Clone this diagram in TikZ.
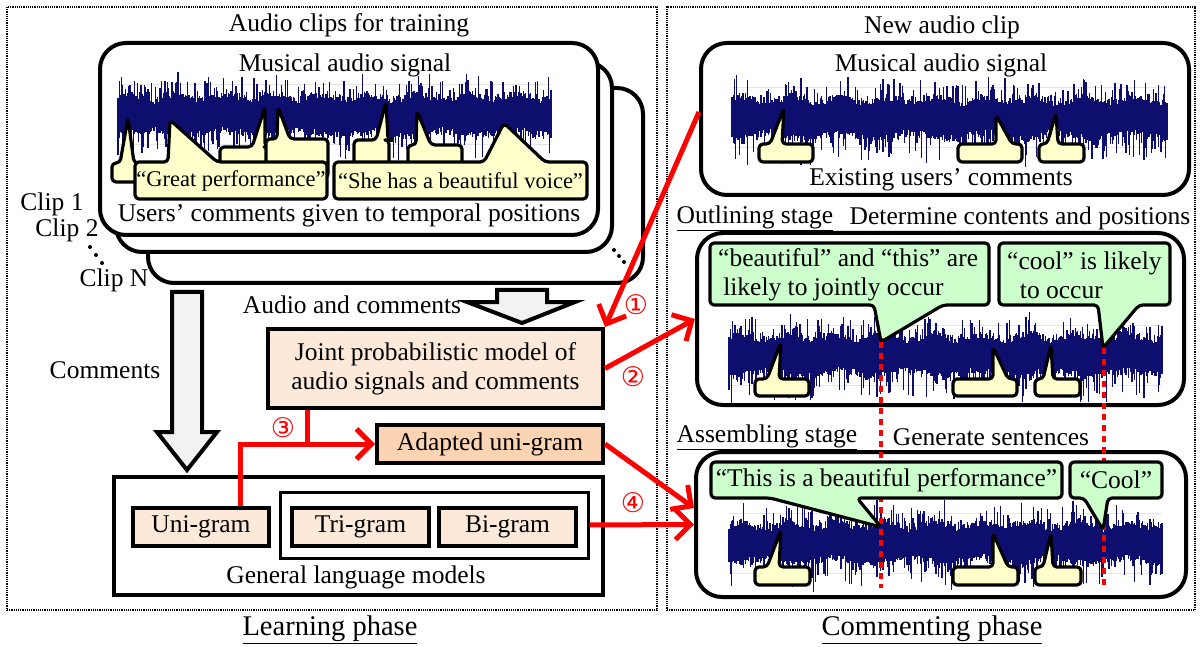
\documentclass[tikz,border=0pt]{standalone}
\usepackage{fontspec}
\setmainfont{Liberation Serif}
\newfontfamily\circfont{DejaVu Sans}
\usepackage{tikz}
\usetikzlibrary{arrows.meta, positioning, calc}
\definecolor{wavenavy}{RGB}{14,14,110}
\definecolor{peach}{RGB}{253,233,217}
\definecolor{peachdark}{RGB}{251,212,180}
\definecolor{noteyellow}{RGB}{255,255,204}
\definecolor{notegreen}{RGB}{204,255,204}
\definecolor{arrowgray}{RGB}{242,242,242}

% x1, x2, centre y
\newcommand{\wavesignal}[3]{%
  \draw[gray!20,line width=1pt] (#1,#3-30) -- (#2,#3-30) (#1,#3+30) -- (#2,#3+30);
  \pgfmathsetmacro\wstep{(#2-#1)/360}%
  \foreach \k in {0,...,360}{%
    \pgfmathsetmacro\wx{#1+\k*\wstep}%
    \pgfmathsetmacro\wup{14+7*rnd+22*rnd^4+3*sin(\k*9)}%
    \pgfmathsetmacro\wdn{14+7*rnd+28*rnd^4+3*cos(\k*6)}%
    \draw[wave] (\wx,#3-\wup) -- (\wx,#3+\wdn);
  }%
}
% x1, y1, x2, y2, pointer a, tip x, tip y, pointer b
\newcommand{\upnote}[8]{\filldraw[note,fill=noteyellow] (#1,#2) -- (#5,#2) -- (#6,#7) -- (#8,#2) -- (#3,#2) -- (#3,#4) -- (#1,#4) -- cycle;}
\newcommand{\downnote}[8]{\filldraw[note,fill=notegreen] (#1,#2) -- (#3,#2) -- (#3,#4) -- (#8,#4) -- (#6,#7) -- (#5,#4) -- (#1,#4) -- cycle;}

\begin{document}
\begin{tikzpicture}[x=1pt,y=-1pt,
    font=\fontsize{25.5}{29}\selectfont,
    panel/.style={draw,densely dotted,line width=1.2pt,inner sep=0},
    clipbox/.style={draw,fill=white,line width=4pt,rounded corners=26pt,inner sep=0},
    model/.style={draw,fill=peach,line width=4pt,inner sep=0},
    note/.style={line width=3.2pt,rounded corners=4pt,line join=round},
    wave/.style={wavenavy,line width=1.3pt},
    bigarrow/.style={draw,fill=arrowgray,line width=4pt,line join=miter},
    redarrow/.style={red,line width=5pt,-{Straight Barb[length=15pt,width=30pt]}},
    redline/.style={red,line width=5pt},
    redmark/.style={red,dash pattern=on 6pt off 5pt,line width=4pt},
    num/.style={text=red,inner sep=0,font=\circfont\fontsize{27}{29}\selectfont},
    lbl/.style={inner sep=0},
    small/.style={inner sep=0,font=\fontsize{22.5}{26}\selectfont},
    title/.style={inner sep=0,font=\fontsize{28.5}{32}\selectfont}
  ]
  \pgfmathsetseed{12}
  \useasboundingbox (0,0) rectangle (1200,647);

  \node[panel,minimum width=650pt,minimum height=603pt] (learnpanel) at (332,308.5) {};
  \node[panel,minimum width=528pt,minimum height=603pt] (commentpanel) at (931,308.5) {};

  \node[clipbox,minimum width=495pt,minimum height=195pt] (clipN) at (395.5,185.5) {};
  \node[clipbox,minimum width=496pt,minimum height=190pt] (clip2) at (364,157) {};
  \node[clipbox,minimum width=498pt,minimum height=192pt] (clip1) at (349,139) {};
  \node[clipbox,minimum width=488pt,minimum height=152pt] (newclip) at (945,119) {};
  \node[clipbox,minimum width=487pt,minimum height=172pt] (outline) at (940.5,319) {};
  \node[clipbox,minimum width=490pt,minimum height=145pt] (assemble) at (941,524.5) {};

  \wavesignal{118}{551}{115}
  \wavesignal{732}{1167}{118}
  \wavesignal{729}{1162}{355}
  \wavesignal{729}{1162}{543}

  \draw[redmark] (881,342) -- (881,588);
  \draw[redmark] (1104,348) -- (1104,588);

  \upnote{112}{163}{140}{182}{120}{128}{118}{134}
  \upnote{220}{147}{268}{178}{252}{265}{107}{265}
  \upnote{266}{139}{328}{178}{277}{278}{107}{290}
  \upnote{135}{162}{327}{199}{168}{170}{120}{217}
  \upnote{354}{140}{389}{178}{376}{386}{102}{388}
  \upnote{408}{145}{462}{178}{416}{417}{111}{431}
  \upnote{334}{162}{587}{199}{484}{504}{123}{545}
  \node[small] (greatnote) at (231,181) {“Great performance”};
  \node[small] (voicenote) at (460.5,181) {“She has a beautiful voice”};

  \upnote{759}{144}{813}{162}{770}{784}{108}{782}
  \upnote{958}{144}{1022}{162}{996}{996}{115}{1012}
  \upnote{1039}{144}{1084}{162}{1047}{1056}{113}{1058}
  \upnote{755}{379}{809}{396}{767}{781}{342}{779}
  \upnote{953}{379}{1017}{396}{993}{993}{347}{1008}
  \upnote{1035}{379}{1080}{396}{1043}{1051}{345}{1053}
  \upnote{755}{567}{810}{585}{767}{781}{530}{779}
  \upnote{953}{567}{1018}{585}{993}{993}{533}{1008}
  \upnote{1035}{567}{1081}{585}{1043}{1051}{533}{1053}

  \downnote{710}{243}{989}{305}{874}{881}{342}{943}
  \downnote{999}{243}{1170}{305}{1098}{1103}{348}{1139}
  \downnote{711}{462}{1062}{498}{770}{881}{527}{857}
  \downnote{1070}{462}{1162}{498}{1084}{1103}{530}{1108}
  \node[lbl,align=left,anchor=west] (jointnote) at (718,275) {“beautiful” and “this” are\\\hspace*{0.2em}likely to jointly occur};
  \node[lbl,align=left,anchor=west] (coolnote) at (1007,275) {“cool” is likely\\\hspace*{0.5em}to occur};
  \node[lbl] (sentnote) at (886.5,480) {“This is a beautiful performance”};
  \node[lbl] (coolsent) at (1116,480) {“Cool”};

  \node[lbl] (traintitle) at (349,25) {Audio clips for training};
  \node[lbl] (trainsignal) at (345,65) {Musical audio signal};
  \node[lbl] (traincomments) at (349,215) {Users’ comments given to temporal positions};
  \node[lbl] (clipone) at (52,204) {Clip 1};
  \node[lbl] (cliptwo) at (67,230) {Clip 2};
  \node[lbl] (clipn) at (114,280) {Clip N};
  \foreach \dx/\dy in {90/247,96/255,102/263,614/250,619/256,624/262}
    \fill (\dx,\dy) circle (2pt);

  \draw[bigarrow] (172,292) -- (202,292) -- (202,432) -- (217,432) -- (187,470)
    -- (157,432) -- (172,432) -- cycle;
  \node[lbl] (commentslbl) at (105,370) {Comments};
  \draw[bigarrow] (497,290) -- (547,290) -- (547,302) -- (575,302) -- (522,323)
    -- (467,302) -- (497,302) -- cycle;
  \node[lbl] (audiolbl) at (352,305) {Audio and comments};

  \node[model,minimum width=335pt,minimum height=79pt,align=center] (joint) at (435.5,368.5)
    {Joint probabilistic model of\\audio signals and comments};
  \node[model,fill=peachdark,minimum width=226pt,minimum height=38pt] (adapted) at (490,444) {Adapted uni-gram};
  \node[draw,fill=white,line width=4pt,minimum width=489pt,minimum height=118pt] (lm) at (358.5,536) {};
  \node[draw,line width=3pt,minimum width=308pt,minimum height=66pt] (ngram) at (434,525) {};
  \node[model,minimum width=136pt,minimum height=38pt] (unigram) at (201,527) {Uni-gram};
  \node[model,minimum width=137pt,minimum height=38pt] (trigram) at (360.5,527) {Tri-gram};
  \node[model,minimum width=137pt,minimum height=38pt] (bigram) at (507.5,527) {Bi-gram};
  \node[lbl] (lmlbl) at (356,577) {General language models};
  \node[title] (learnlbl) at (330,630) {\underline{Learning phase}};

  \node[lbl] (newtitle) at (942,27) {New audio clip};
  \node[lbl] (newsignal) at (941,65) {Musical audio signal};
  \node[lbl] (existing) at (941,180) {Existing users’ comments};
  \node[lbl] (outlinelbl) at (755,218) {\underline{Outlining stage}};
  \node[lbl] (outlinetask) at (1020,218) {Determine contents and positions};
  \node[lbl] (assemblelbl) at (767,437) {\underline{Assembling stage}};
  \node[lbl] (assembletask) at (991,437) {Generate sentences};
  \node[title] (commentlbl) at (932,630) {\underline{Commenting phase}};

  \draw[redarrow] ([yshift=7pt]newclip.west) -- (joint.north east);
  \draw[redarrow] (joint.east) -- (outline.west);
  \draw[redline] ([xshift=-128.5pt]joint.south) -- ([xshift=-128.5pt]joint.south |- adapted.west);
  \draw[redarrow] ([xshift=39pt]unigram.north) |- (adapted.west);
  \draw[redarrow] (adapted.east) -- ([yshift=16.5pt]assemble.west);
  \draw[redarrow] (ngram.east) -- (assemble.west);
  \node[num] (stepone) at (636,305) {①};
  \node[num] (steptwo) at (633,377) {②};
  \node[num] (stepthree) at (283,428) {③};
  \node[num] (stepfour) at (633,503) {④};
\end{tikzpicture}
\end{document}
